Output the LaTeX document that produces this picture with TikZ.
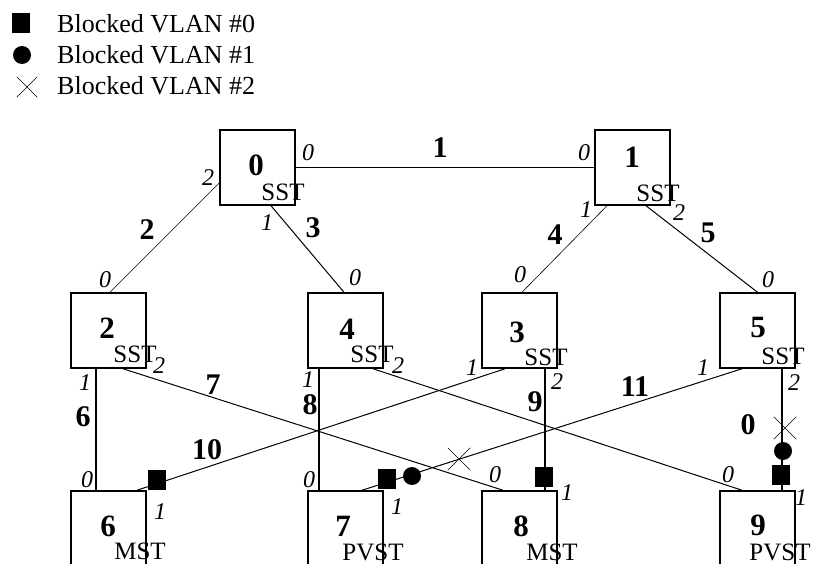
\documentclass[tikz,border=0pt]{standalone}
\usepackage{fontspec}
\setmainfont{Liberation Serif}
\usetikzlibrary{shapes.misc}
\begin{document}
\begin{tikzpicture}[x=1pt,y=-1pt,
  box/.style={draw, line width=1.5pt, minimum width=75pt, minimum height=75pt, inner sep=0pt},
  num/.style={font=\fontsize{31}{31}\selectfont\bfseries, inner sep=0pt},
  proto/.style={font=\fontsize{25}{25}\selectfont, inner sep=0pt},
  lnk/.style={font=\fontsize{30}{30}\selectfont\bfseries, inner sep=0pt},
  port/.style={font=\fontsize{24}{24}\selectfont\itshape, inner sep=0pt},
  legtext/.style={font=\fontsize{26}{26}\selectfont, inner sep=0pt, anchor=west},
  wire/.style={line width=1pt},
  thinwire/.style={line width=0.6pt},
  vwire/.style={line width=1.4pt},
  sq/.style={fill=black, minimum width=18pt, minimum height=20pt, inner sep=0pt},
  dot/.style={circle, fill=black, minimum size=18pt, inner sep=0pt},
  xm/.style={cross out, draw, minimum size=22pt, inner sep=0pt, line width=0.5pt}]
\useasboundingbox (0,0) rectangle (815,564);

% legend
\node[sq] (lsq) at (21,23) {};
\node[dot] (ldot) at (22,55) {};
\node[xm, minimum size=20pt] (lx) at (27,87) {};
\node[legtext] (lt0) at (57,24) {Blocked VLAN \#0};
\node[legtext] (lt1) at (57,55) {Blocked VLAN \#1};
\node[legtext] (lt2) at (57,86) {Blocked VLAN \#2};

% boxes
\node[box] (n0) at (257.5,167.5) {};
\node[box] (n1) at (632.5,167.5) {};
\node[box] (n2) at (108.5,330.5) {};
\node[box] (n4) at (345.5,330.5) {};
\node[box] (n3) at (519.5,330.5) {};
\node[box] (n5) at (757.5,330.5) {};
\node[box] (n6) at (108.5,528.5) {};
\node[box] (n7) at (345.5,528.5) {};
\node[box] (n8) at (519.5,528.5) {};
\node[box] (n9) at (757.5,528.5) {};

% node numbers
\node[num] (t0) at (256,165) {0};
\node[num] (t1) at (632,157) {1};
\node[num] (t2) at (107,328) {2};
\node[num] (t4) at (347,329) {4};
\node[num] (t3) at (517,332) {3};
\node[num] (t5) at (758,328) {5};
\node[num] (t6) at (108,526) {6};
\node[num] (t7) at (343,526) {7};
\node[num] (t8) at (521,526) {8};
\node[num] (t9) at (758,525) {9};

% protocols
\node[proto] (s0) at (283,192) {SST};
\node[proto] (s1) at (658,193) {SST};
\node[proto] (s2) at (135,354) {SST};
\node[proto] (s4) at (372,354) {SST};
\node[proto] (s3) at (546,357) {SST};
\node[proto] (s5) at (783,356) {SST};
\node[proto] (s6) at (140,551) {MST};
\node[proto] (s7) at (373,552) {PVST};
\node[proto] (s8) at (552,552) {MST};
\node[proto] (s9) at (780,552) {PVST};

% connectors
\draw[wire] (n0.east) -- (n1.west);
\draw[thinwire] ([yshift=-15.5pt]n0.west) -- ([xshift=1.5pt]n2.north);
\draw[wire] ([xshift=13.5pt]n0.south) -- ([xshift=-1.5pt]n4.north);
\draw[thinwire] ([xshift=-25.5pt]n1.south) -- ([xshift=2.5pt]n3.north);
\draw[wire] ([xshift=13.5pt]n1.south) -- (n5.north);
\draw[vwire] ([xshift=-12.5pt]n2.south) -- ([xshift=-12.5pt]n6.north);
\draw[wire] ([xshift=14.5pt]n2.south) -- ([xshift=-16.5pt]n8.north);
\draw[vwire] ([xshift=-26.5pt]n4.south) -- ([xshift=-26.5pt]n7.north);
\draw[vwire] ([xshift=25.5pt]n3.south) -- ([xshift=25.5pt]n8.north);
\draw[wire] ([xshift=28.5pt]n6.north) -- ([xshift=-14.5pt]n3.south);
\draw[wire] ([xshift=16.5pt]n7.north) -- ([xshift=-15.5pt]n5.south);
\draw[vwire] ([xshift=24.5pt]n5.south) -- ([xshift=24.5pt]n9.north);
\draw[wire] ([xshift=27.5pt]n4.south) -- ([xshift=-15.5pt]n9.north);

% link labels
\node[lnk] (l1) at (440,148) {1};
\node[lnk] (l2) at (147,230) {2};
\node[lnk] (l3) at (313,228) {3};
\node[lnk] (l4) at (555,235) {4};
\node[lnk] (l5) at (708,233) {5};
\node[lnk] (l6) at (83,417) {6};
\node[lnk] (l7) at (213,385) {7};
\node[lnk] (l8) at (310,405) {8};
\node[lnk] (l9) at (535,402) {9};
\node[lnk] (l10) at (207,450) {10};
\node[lnk] (l11) at (635,387) {11};
\node[lnk] (l0) at (748,425) {0};

% port labels
\node[port] (p00) at (308,153) {0};
\node[port] (p02) at (208,178) {2};
\node[port] (p01) at (267,223) {1};
\node[port] (p10) at (584,153) {0};
\node[port] (p11) at (586,210) {1};
\node[port] (p12) at (679,213) {2};
\node[port] (p20) at (105,280) {0};
\node[port] (p21) at (85,383) {1};
\node[port] (p22) at (159,366) {2};
\node[port] (p40) at (355,278) {0};
\node[port] (p41) at (308,380) {1};
\node[port] (p42) at (398,366) {2};
\node[port] (p30) at (520,275) {0};
\node[port] (p31) at (472,368) {1};
\node[port] (p32) at (557,382) {2};
\node[port] (p50) at (768,280) {0};
\node[port] (p51) at (703,368) {1};
\node[port] (p52) at (794,383) {2};
\node[port] (p60) at (87,480) {0};
\node[port] (p61) at (160,512) {1};
\node[port] (p70) at (309,480) {0};
\node[port] (p71) at (397,507) {1};
\node[port] (p80) at (495,475) {0};
\node[port] (p81) at (567,493) {1};
\node[port] (p90) at (728,475) {0};
\node[port] (p91) at (801,498) {1};

% blocked markers
\node[sq] (b10) at (157,480) {};
\node[sq] (b11a) at (387,479) {};
\node[dot] (b11b) at (412,476) {};
\node[xm] (b11c) at (459,459) {};
\node[sq] (b9) at (544,477) {};
\node[sq] (b0a) at (781,475) {};
\node[dot] (b0b) at (783,451) {};
\node[xm] (b0c) at (785,428) {};
\end{tikzpicture}
\end{document}
